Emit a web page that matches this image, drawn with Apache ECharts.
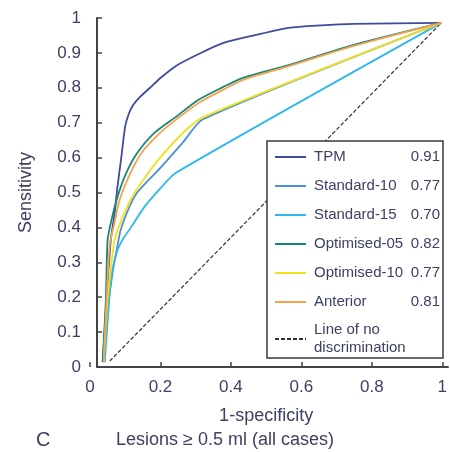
<!DOCTYPE html>
<html>
<head>
<meta charset="utf-8">
<script src="https://cdn.jsdelivr.net/npm/echarts@6/dist/echarts.min.js"></script>
<style>
  html, body { margin: 0; padding: 0; background: #fff; }
  #chart { width: 450px; height: 452px; }
</style>
</head>
<body>
<div id="chart"></div>
<script>
// ROC curves, lesions >= 0.5 ml (all cases): [1-specificity, sensitivity]
const tpm = [[0.036,0.014],[0.047,0.192],[0.059,0.364],[0.070,0.441],[0.078,0.516],[0.089,0.602],[0.100,0.690],[0.110,0.725],[0.122,0.750],[0.140,0.772],[0.168,0.798],[0.200,0.828],[0.243,0.862],[0.307,0.896],[0.377,0.928],[0.469,0.951],[0.564,0.972],[0.656,0.979],[0.749,0.983],[0.997,0.986]];
const standard10 = [[0.039,0.014],[0.053,0.192],[0.084,0.380],[0.106,0.445],[0.134,0.500],[0.201,0.572],[0.265,0.645],[0.321,0.710],[0.997,0.986]];
const standard15 = [[0.042,0.014],[0.056,0.212],[0.064,0.281],[0.078,0.335],[0.092,0.364],[0.117,0.401],[0.154,0.458],[0.201,0.513],[0.243,0.556],[0.997,0.986]];
const optimised05 = [[0.036,0.014],[0.045,0.192],[0.050,0.364],[0.061,0.421],[0.078,0.487],[0.103,0.556],[0.134,0.613],[0.182,0.670],[0.243,0.716],[0.307,0.765],[0.377,0.802],[0.433,0.828],[0.564,0.865],[0.749,0.923],[0.997,0.986]];
const optimised10 = [[0.039,0.014],[0.050,0.192],[0.070,0.364],[0.089,0.421],[0.117,0.482],[0.154,0.540],[0.201,0.602],[0.265,0.672],[0.321,0.716],[0.997,0.986]];
const anterior = [[0.039,0.014],[0.047,0.192],[0.056,0.350],[0.070,0.415],[0.084,0.479],[0.112,0.550],[0.148,0.616],[0.196,0.668],[0.243,0.708],[0.307,0.756],[0.377,0.794],[0.433,0.822],[0.564,0.862],[0.749,0.920],[0.997,0.986]];
const noDiscrimination = [[0.056,0.017],[0.997,0.986]];

const seriesNames = ['TPM','Standard-10','Standard-15','Optimised-05','Optimised-10','Anterior'];
const aucValues = ['0.91','0.77','0.70','0.82','0.77','0.81'];
const seriesColors = ['#3f4ba0','#4b8fd6','#2fb8ef','#17877a','#f2e21c','#f7a24c'];
const refLineName = 'Line of no discrimination';

const xTickLabels = ['0','0.2','0.4','0.6','0.8','1'];
const yTickLabels = ['0','0.1','0.2','0.3','0.4','0.5','0.6','0.7','0.8','0.9','1'];

const textColor = '#3d4163';
const fontFamily = '"Liberation Sans", Arial, sans-serif';

const curves = [tpm, standard10, standard15, optimised05, optimised10, anterior];

const chart = echarts.init(document.getElementById('chart'), null, { renderer: 'canvas' });

const series = curves.map((data, i) => ({
  name: seriesNames[i],
  type: 'line',
  xAxisIndex: 0,
  yAxisIndex: 0,
  data: data,
  symbol: 'none',
  smooth: 0.25,
  lineStyle: { color: seriesColors[i], width: 1.8 },
  itemStyle: { color: seriesColors[i] },
  z: 3,
  silent: true
}));
series.unshift({
  name: refLineName,
  type: 'line',
  xAxisIndex: 0,
  yAxisIndex: 0,
  data: noDiscrimination,
  symbol: 'none',
  lineStyle: { color: '#333', width: 1.2, type: [4, 2] },
  itemStyle: { color: '#333' },
  z: 2,
  silent: true
});

chart.setOption({
  animation: false,
  backgroundColor: '#fff',
  textStyle: { fontFamily: fontFamily },
  grid: [
    { left: 90, right: 2, top: 18, bottom: 85 },
    { left: 97, right: 2, top: 18, bottom: 85 }
  ],
  xAxis: [
    {
      gridIndex: 0, type: 'value', min: 0, max: 1, interval: 0.2,
      axisLine: { show: false },
      axisTick: { show: true, inside: true, length: 5, lineStyle: { color: '#444', width: 1.5 } },
      splitLine: { show: false },
      axisLabel: {
        margin: 12, fontSize: 17, color: textColor, fontFamily: fontFamily,
        formatter: v => xTickLabels[Math.round(v / 0.2)]
      },
      name: '1-specificity', nameLocation: 'middle', nameGap: 40,
      nameTextStyle: { fontSize: 18, color: textColor, fontFamily: fontFamily }
    },
    {
      gridIndex: 1, type: 'value', min: 0, max: 1,
      axisLine: { show: true, lineStyle: { color: '#444', width: 2 } },
      axisTick: { show: false }, axisLabel: { show: false }, splitLine: { show: false }
    }
  ],
  yAxis: [
    {
      gridIndex: 0, type: 'value', min: 0, max: 1, show: false
    },
    {
      gridIndex: 1, type: 'value', min: 0, max: 1, interval: 0.1,
      axisLine: { show: true, lineStyle: { color: '#444', width: 2 } },
      axisTick: { show: true, inside: true, length: 5, lineStyle: { color: '#444', width: 1.5 } },
      splitLine: { show: false },
      axisLabel: {
        margin: 16, fontSize: 17, color: textColor, fontFamily: fontFamily,
        formatter: v => yTickLabels[Math.round(v / 0.1)]
      },
      name: 'Sensitivity', nameLocation: 'middle', nameGap: 62,
      nameTextStyle: { fontSize: 18, color: textColor, fontFamily: fontFamily }
    }
  ],
  legend: {
    orient: 'vertical',
    left: 267, top: 141,
    padding: [6, 3, 1, 7],
    backgroundColor: '#fff',
    borderColor: '#3a3a3a',
    borderWidth: 1.5,
    borderRadius: 0,
    itemWidth: 31,
    itemHeight: 14,
    itemGap: 9,
    selectedMode: false,
    itemStyle: { opacity: 0 },
    data: seriesNames.concat([refLineName]),
    textStyle: {
      fontSize: 15, color: textColor, fontFamily: fontFamily, lineHeight: 20,
      rich: {
        n: { fontSize: 15, color: textColor, width: 94, padding: [0, 0, 0, 3], lineHeight: 20 },
        v: { fontSize: 15, color: textColor, width: 32, align: 'right', lineHeight: 20 },
        d: { fontSize: 15, color: textColor, padding: [0, 0, 0, 3], lineHeight: 18 }
      }
    },
    formatter: name => {
      const i = seriesNames.indexOf(name);
      if (i < 0) return '{d|Line of no}\n{d|discrimination}';
      return '{n|' + name + '}{v|' + aucValues[i] + '}';
    },
    z: 10
  },
  graphic: [
    {
      type: 'text', left: 'center', top: 431,
      style: { text: 'Lesions \u2265 0.5 ml (all cases)', fontSize: 18, fill: textColor, fontFamily: fontFamily },
      x: 52
    },
    {
      type: 'text', left: 36, top: 430,
      style: { text: 'C', fontSize: 20, fontWeight: 500, fill: textColor, fontFamily: fontFamily }
    }
  ],
  series: series
});
</script>
</body>
</html>
